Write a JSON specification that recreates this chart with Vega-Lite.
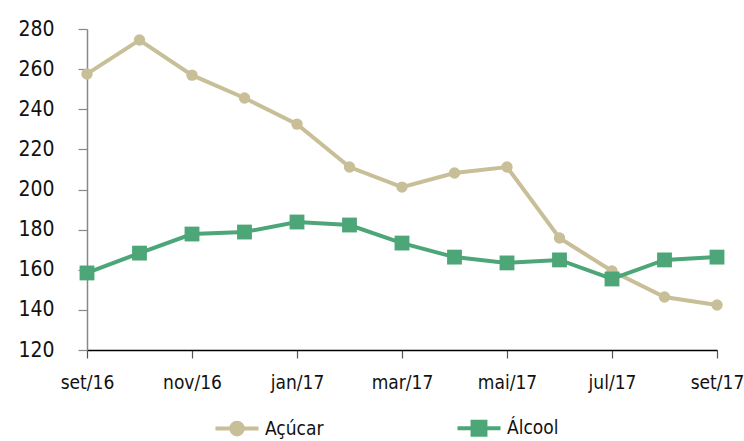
{
  "$schema": "https://vega.github.io/schema/vega-lite/v6.json",
  "autosize": "none",
  "width": 630,
  "height": 321,
  "padding": {"left": 87, "top": 29, "right": 27, "bottom": 91},
  "background": "white",
  "config": {
    "view": {"stroke": null},
    "font": "DejaVu Sans Condensed",
    "axis": {"labelFont": "DejaVu Sans Condensed", "labelColor": "#111111", "grid": false, "title": null}
  },
  "data": {
    "values": [
      {"mes": "2016-09-01", "serie": "Açúcar", "valor": 257.6},
      {"mes": "2016-10-01", "serie": "Açúcar", "valor": 274.5},
      {"mes": "2016-11-01", "serie": "Açúcar", "valor": 257.0},
      {"mes": "2016-12-01", "serie": "Açúcar", "valor": 245.6},
      {"mes": "2017-01-01", "serie": "Açúcar", "valor": 232.6},
      {"mes": "2017-02-01", "serie": "Açúcar", "valor": 211.2},
      {"mes": "2017-03-01", "serie": "Açúcar", "valor": 201.2},
      {"mes": "2017-04-01", "serie": "Açúcar", "valor": 208.2},
      {"mes": "2017-05-01", "serie": "Açúcar", "valor": 211.2},
      {"mes": "2017-06-01", "serie": "Açúcar", "valor": 175.8},
      {"mes": "2017-07-01", "serie": "Açúcar", "valor": 159.4},
      {"mes": "2017-08-01", "serie": "Açúcar", "valor": 146.4},
      {"mes": "2017-09-01", "serie": "Açúcar", "valor": 142.4},
      {"mes": "2016-09-01", "serie": "Álcool", "valor": 158.4},
      {"mes": "2016-10-01", "serie": "Álcool", "valor": 168.3},
      {"mes": "2016-11-01", "serie": "Álcool", "valor": 177.8},
      {"mes": "2016-12-01", "serie": "Álcool", "valor": 178.8},
      {"mes": "2017-01-01", "serie": "Álcool", "valor": 183.8},
      {"mes": "2017-02-01", "serie": "Álcool", "valor": 182.3},
      {"mes": "2017-03-01", "serie": "Álcool", "valor": 173.3},
      {"mes": "2017-04-01", "serie": "Álcool", "valor": 166.3},
      {"mes": "2017-05-01", "serie": "Álcool", "valor": 163.4},
      {"mes": "2017-06-01", "serie": "Álcool", "valor": 164.9},
      {"mes": "2017-07-01", "serie": "Álcool", "valor": 155.4},
      {"mes": "2017-08-01", "serie": "Álcool", "valor": 164.9},
      {"mes": "2017-09-01", "serie": "Álcool", "valor": 166.3}
    ]
  },
  "encoding": {
    "x": {
      "field": "mes", "type": "ordinal", "sort": null,
      "scale": {"type": "point", "padding": 0},
      "axis": {
        "labelAngle": 0,
        "labelFontSize": 19,
        "domainColor": "#000000", "domainWidth": 1.5,
        "tickColor": "#555555", "tickSize": 8, "tickWidth": 1.2,
        "labelPadding": 15,
        "values": ["2016-09-01", "2016-11-01", "2017-01-01", "2017-03-01", "2017-05-01", "2017-07-01", "2017-09-01"],
        "labelExpr": "({'2016-09-01':'set/16','2016-11-01':'nov/16','2017-01-01':'jan/17','2017-03-01':'mar/17','2017-05-01':'mai/17','2017-07-01':'jul/17','2017-09-01':'set/17'})[datum.value]"
      }
    },
    "y": {
      "field": "valor", "type": "quantitative",
      "scale": {"domain": [120, 280], "nice": false, "zero": false},
      "axis": {
        "values": [120, 140, 160, 180, 200, 220, 240, 260, 280],
        "labelFontSize": 21,
        "domainColor": "#888888", "domainWidth": 1.5,
        "tickColor": "#888888", "tickSize": 9, "tickWidth": 1.2,
        "labelPadding": 24
      }
    },
    "color": {
      "field": "serie", "type": "nominal",
      "scale": {"domain": ["Açúcar", "Álcool"], "range": ["#C8BF99", "#4CA677"]},
      "legend": {
        "title": null,
        "orient": "none",
        "direction": "horizontal",
        "legendX": 126,
        "legendY": 375,
        "symbolSize": 1850,
        "symbolStrokeWidth": 4,
        "labelFont": "DejaVu Sans Condensed",
        "labelFontSize": 19,
        "labelColor": "#111111",
        "labelOffset": 4,
        "columnPadding": 125,
        "symbolType": "M-1,0H1",
        "encode": {
          "symbols": {
            "update": {
              "shape": {"signal": "datum.value === 'Açúcar' ? 'M-1,0H1M0.27,0A0.27,0.27 0 1,1 -0.27,0A0.27,0.27 0 1,1 0.27,0Z' : 'M-1,0H1M-0.3,-0.3H0.3V0.3H-0.3Z'"},
              "fill": {"signal": "datum.value === 'Açúcar' ? '#C8BF99' : '#4CA677'"},
              "stroke": {"signal": "datum.value === 'Açúcar' ? '#C8BF99' : '#4CA677'"},
              "strokeWidth": {"value": 4},
              "opacity": {"value": 1}
            }
          }
        }
      }
    }
  },
  "layer": [
    {"mark": {"type": "line", "strokeWidth": 4}},
    {
      "transform": [{"filter": "datum.serie === 'Açúcar'"}],
      "mark": {"type": "point", "filled": true, "opacity": 1, "shape": "circle", "size": 130}
    },
    {
      "transform": [{"filter": "datum.serie === 'Álcool'"}],
      "mark": {"type": "point", "filled": true, "opacity": 1, "shape": "square", "size": 220}
    }
  ]
}
